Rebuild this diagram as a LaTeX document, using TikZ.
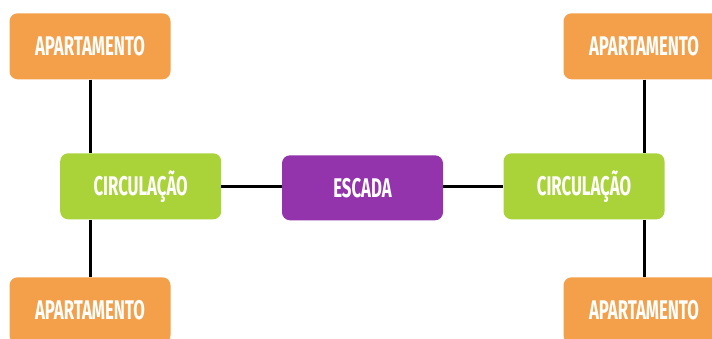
\documentclass[tikz,border=0pt]{standalone}
\usepackage{fontspec}
\newfontfamily\lblfont[FakeStretch=0.62]{Fira Sans}
\definecolor{apto}{HTML}{F4A04A}
\definecolor{circ}{HTML}{AAD33A}
\definecolor{esc}{HTML}{9334AC}
\begin{document}
\begin{tikzpicture}[x=1pt,y=1pt,
  box/.style={rounded corners=8pt, minimum width=161pt, minimum height=66pt, inner sep=0pt,
    text=white, font=\lblfont\bfseries\fontsize{27}{27}\selectfont},
  conn/.style={line width=3pt, black}]
\useasboundingbox (0,0) rectangle (712,-338);
\fill[white] (0,0) rectangle (712,-338);
\node[box, fill=apto] (apTL) at (90,-46.3) {APARTAMENTO};
\node[box, fill=apto] (apTR) at (644,-46.3) {APARTAMENTO};
\node[box, fill=circ] (circL) at (140.7,-186.3) {CIRCULAÇÃO};
\node[box, fill=esc, minimum height=65pt] (esc) at (362.5,-187.8) {ESCADA};
\node[box, fill=circ] (circR) at (584,-186.3) {CIRCULAÇÃO};
\node[box, fill=apto] (apBL) at (90,-310.3) {APARTAMENTO};
\node[box, fill=apto] (apBR) at (644,-310.3) {APARTAMENTO};
\draw[conn] (apTL.south) -- (apTL.south |- circL.north);
\draw[conn] (apBL.north) -- (apBL.north |- circL.south);
\draw[conn] (apTR.south) -- (apTR.south |- circR.north);
\draw[conn] (apBR.north) -- (apBR.north |- circR.south);
\draw[conn] (circL.east) -- (circL.east -| esc.west);
\draw[conn] (esc.east |- circR.west) -- (circR.west);
\end{tikzpicture}
\end{document}
